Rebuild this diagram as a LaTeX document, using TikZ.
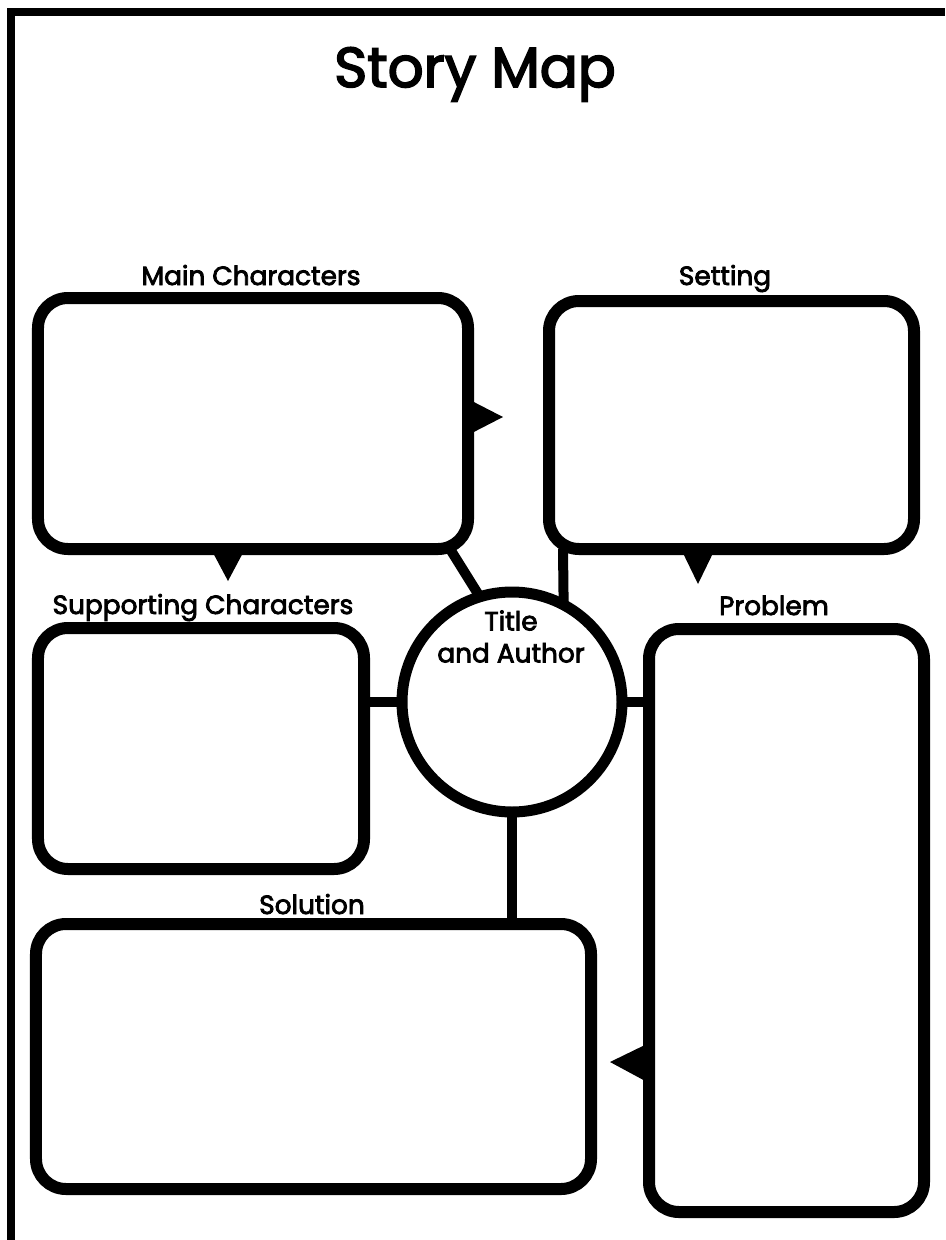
\documentclass[tikz,border=0pt]{standalone}
\usepackage{fontspec}
\setmainfont{Poppins}
\newfontfamily\medfont{Poppins}[FakeBold=3]
\usetikzlibrary{calc}
\begin{document}
\begin{tikzpicture}[x=0.2mm,y=-0.2mm,
  box/.style={draw, line width=2.4mm, rounded corners=6mm, inner sep=0pt, outer sep=0pt},
  hub/.style={draw, circle, line width=2.2mm, inner sep=0pt, outer sep=0pt, minimum size=44mm},
  link/.style={line width=2mm},
  lbl/.style={font=\medfont\fontsize{15}{18}\selectfont, anchor=base, inner sep=0pt},
  tipmark/.style={fill=black},
  frame/.style={line width=1.6mm}]
\useasboundingbox (0,0) rectangle (945,1240);
% frame
\coordinate (fa) at (11,1240);
\coordinate (fb) at (11,12);
\coordinate (fc) at (945,12);
\draw[frame] (fa) -- (fb) -- (fc);
% title
\node[font=\medfont\fontsize{32}{38}\selectfont, anchor=base, inner sep=0pt] (title) at (475,87) {Story Map};
% boxes
\node[box, minimum width=86mm, minimum height=50.2mm] (main) at (253,423.5) {};
\node[box, minimum width=73mm, minimum height=49.6mm] (set) at (731.5,425) {};
\node[box, minimum width=65.2mm, minimum height=48.2mm] (sup) at (201,748.5) {};
\node[box, minimum width=55mm, minimum height=116.6mm] (prob) at (786.5,920.5) {};
\node[box, minimum width=111mm, minimum height=53mm] (sol) at (313.5,1056.5) {};
\node[hub] (circ) at (512,702) {};
% labels
\node[lbl] (lmain) at (251,285) {Main Characters};
\node[lbl] (lset) at (725,285) {Setting};
\node[lbl] (lsup) at (203,614) {Supporting Characters};
\node[lbl] (lprob) at (774,615) {Problem};
\node[lbl] (lsol) at (312,914) {Solution};
\node[font=\medfont\fontsize{15}{18.2}\selectfont, align=center, anchor=north, inner sep=0pt] (ltitle) at (511,610) {Title\\and Author};
% connectors
\coordinate (m1) at ($(main.south east)+(-18,0)$);
\draw[link] (m1) -- (circ.107);
\coordinate (s1) at ($(set.south west)+(14,0)$);
\draw[link] (s1) -- (circ.62);
\draw[link] (circ.west) -- (circ.west -| sup.east);
\draw[link] (circ.east) -- (circ.east -| prob.west);
\draw[link] (circ.south) -- (circ.south |- sol.north);
% arrow marks
\fill[tipmark] (468,399) -- (503,417) -- (468,435) -- cycle;
\fill[tipmark] (211,549) -- (245,549) -- (228,581) -- cycle;
\fill[tipmark] (681,549) -- (715,549) -- (698,584) -- cycle;
\fill[tipmark] (649,1043) -- (610,1062) -- (649,1083) -- cycle;
\end{tikzpicture}
\end{document}
